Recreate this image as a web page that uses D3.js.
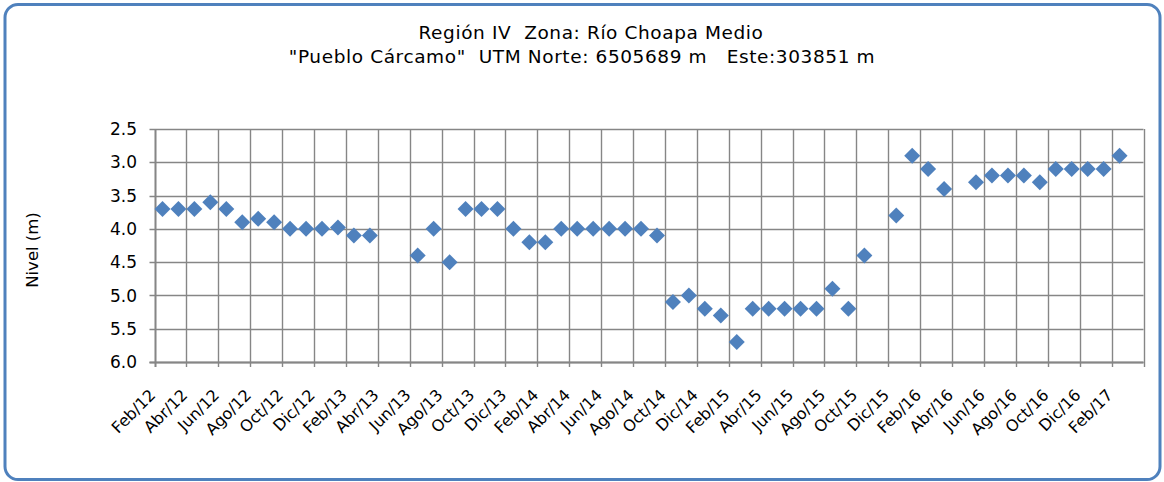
<!DOCTYPE html>
<html>
<head>
<meta charset="utf-8">
<script src="https://cdn.jsdelivr.net/npm/d3@7"></script>
<style>
  html, body { margin: 0; padding: 0; background: #fff; }
  svg { display: block; }
  text { font-family: "DejaVu Sans", Verdana, sans-serif; fill: #000; white-space: pre; }
</style>
</head>
<body>
<svg id="chart" width="1164" height="482"></svg>
<script>
// Monthly readings, Feb/12 .. Mar/17 (null = no measurement)
const months = [
  "Feb/12","Mar/12","Abr/12","May/12","Jun/12","Jul/12","Ago/12","Sep/12","Oct/12","Nov/12","Dic/12","Ene/13",
  "Feb/13","Mar/13","Abr/13","May/13","Jun/13","Jul/13","Ago/13","Sep/13","Oct/13","Nov/13","Dic/13","Ene/14",
  "Feb/14","Mar/14","Abr/14","May/14","Jun/14","Jul/14","Ago/14","Sep/14","Oct/14","Nov/14","Dic/14","Ene/15",
  "Feb/15","Mar/15","Abr/15","May/15","Jun/15","Jul/15","Ago/15","Sep/15","Oct/15","Nov/15","Dic/15","Ene/16",
  "Feb/16","Mar/16","Abr/16","May/16","Jun/16","Jul/16","Ago/16","Sep/16","Oct/16","Nov/16","Dic/16","Ene/17",
  "Feb/17","Mar/17"
];
const nivel = [
  3.7, 3.7, 3.7, 3.6, 3.7, 3.9, 3.85, 3.9, 4.0, 4.0, 4.0, 3.98,
  4.1, 4.1, null, null, 4.4, 4.0, 4.5, 3.7, 3.7, 3.7, 4.0, 4.2,
  4.2, 4.0, 4.0, 4.0, 4.0, 4.0, 4.0, 4.1, 5.1, 5.0, 5.2, 5.3,
  5.7, 5.2, 5.2, 5.2, 5.2, 5.2, 4.9, 5.2, 4.4, null, 3.8, 2.9,
  3.1, 3.4, null, 3.3, 3.2, 3.2, 3.2, 3.3, 3.1, 3.1, 3.1, 3.1,
  2.9, null
];
const yTicks = [2.5, 3.0, 3.5, 4.0, 4.5, 5.0, 5.5, 6.0];
const titleLines = ["Región IV  Zona: Río Choapa Medio", "\"Pueblo Cárcamo\"  UTM Norte: 6505689 m   Este:303851 m"];
const yTitle = "Nivel (m)";

const svg = d3.select("#chart");
const plot = { left: 154.5, right: 1143.5, top: 129, bottom: 362 };
const gridColor = "#868686";
const markerColor = "#4f81bd";

// outer rounded frame
svg.append("rect")
  .attr("x", 5).attr("y", 4.5)
  .attr("width", 1155).attr("height", 475)
  .attr("rx", 13).attr("ry", 13)
  .attr("fill", "#fff")
  .attr("stroke", "#4f81bd").attr("stroke-width", 3);

const x = d3.scaleBand().domain(months).range([plot.left, plot.right]).paddingInner(0).paddingOuter(0);
const y = d3.scaleLinear().domain([2.5, 6.0]).range([plot.top, plot.bottom]);

// category boundaries every two months
const boundaryCats = months.filter((m, i) => i % 2 === 0);
const gx = svg.append("g");
gx.selectAll("line.v")
  .data(boundaryCats)
  .join("line")
  .attr("class", "v")
  .attr("x1", d => Math.round(x(d)) + 0.5).attr("x2", d => Math.round(x(d)) + 0.5)
  .attr("y1", plot.top).attr("y2", plot.bottom + 5)
  .attr("stroke", gridColor).attr("stroke-width", 1.4);
gx.append("line")
  .attr("x1", Math.round(plot.right) + 0.5).attr("x2", Math.round(plot.right) + 0.5)
  .attr("y1", plot.top).attr("y2", plot.bottom + 5)
  .attr("stroke", gridColor).attr("stroke-width", 1.4);

// horizontal gridlines with outside ticks
const gy = svg.append("g");
gy.selectAll("line.h")
  .data(yTicks)
  .join("line")
  .attr("class", "h")
  .attr("x1", plot.left - 5).attr("x2", plot.right)
  .attr("y1", d => Math.round(y(d)) + 0.5).attr("y2", d => Math.round(y(d)) + 0.5)
  .attr("stroke", gridColor).attr("stroke-width", 1.4);

// axis lines
svg.append("line")
  .attr("x1", Math.round(plot.left) + 0.5).attr("x2", Math.round(plot.left) + 0.5)
  .attr("y1", plot.top).attr("y2", plot.bottom + 5)
  .attr("stroke", gridColor).attr("stroke-width", 1.8);
svg.append("line")
  .attr("x1", plot.left - 5).attr("x2", plot.right)
  .attr("y1", Math.round(plot.bottom) + 0.5).attr("y2", Math.round(plot.bottom) + 0.5)
  .attr("stroke", gridColor).attr("stroke-width", 1.8);

// y tick labels
svg.append("g").selectAll("text")
  .data(yTicks)
  .join("text")
  .attr("x", 137).attr("y", d => y(d))
  .attr("dy", "0.36em")
  .attr("text-anchor", "end")
  .attr("font-size", 17)
  .text(d => d.toFixed(1));

// x tick labels, rotated
svg.append("g").selectAll("text")
  .data(boundaryCats)
  .join("text")
  .attr("transform", d => `translate(${x(d) + 2},${plot.bottom + 34}) rotate(-45)`)
  .attr("text-anchor", "end")
  .attr("font-size", 16)
  .text(d => d);

// diamond markers
const diamond = "M0,-8L8,0L0,8L-8,0Z";
svg.append("g").selectAll("path")
  .data(months.map((m, i) => ({ m, v: nivel[i] })).filter(d => d.v !== null))
  .join("path")
  .attr("d", diamond)
  .attr("transform", d => `translate(${x(d.m) + x.bandwidth() / 2},${y(d.v)})`)
  .attr("fill", markerColor);

// titles
svg.append("g").selectAll("text")
  .data(titleLines)
  .join("text")
  .attr("x", (d, i) => i === 0 ? 591 : 582).attr("y", (d, i) => 39 + i * 24)
  .attr("text-anchor", "middle")
  .attr("font-size", 18.5)
  .attr("letter-spacing", 0.6)
  .text(d => d);

svg.append("text")
  .attr("transform", "translate(38,250) rotate(-90)")
  .attr("text-anchor", "middle")
  .attr("font-size", 16.5)
  .text(yTitle);
</script>
</body>
</html>
